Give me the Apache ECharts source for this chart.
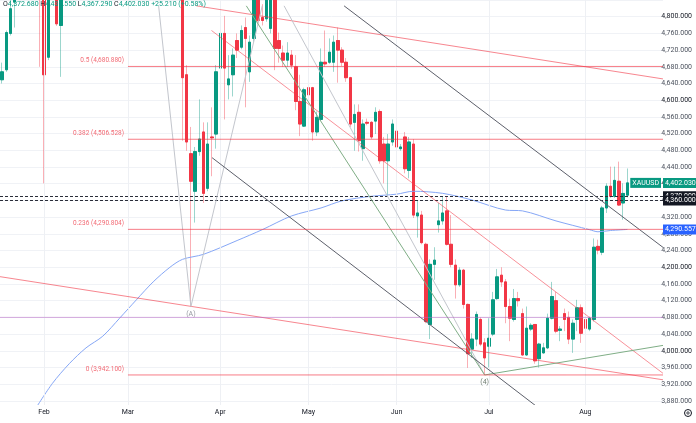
<!DOCTYPE html>
<html><head><meta charset="utf-8">
<script src="https://cdn.jsdelivr.net/npm/echarts@6/dist/echarts.min.js"></script>
<style>html,body{margin:0;padding:0;background:#fff;}#c{width:696px;height:423px;}</style>
</head><body><div id="c"></div>
<script>
const dates = [
 '2026-01-19','2026-01-20','2026-01-21','2026-01-22','2026-01-23','2026-01-26','2026-01-27','2026-01-28','2026-01-29','2026-01-30',
 '2026-02-02','2026-02-03','2026-02-04','2026-02-05','2026-02-06','2026-02-09','2026-02-10','2026-02-11','2026-02-12','2026-02-13',
 '2026-02-16','2026-02-17','2026-02-18','2026-02-19','2026-02-20','2026-02-23','2026-02-24','2026-02-25','2026-02-26','2026-02-27',
 '2026-03-02','2026-03-03','2026-03-04','2026-03-05','2026-03-06','2026-03-09','2026-03-10','2026-03-11','2026-03-12','2026-03-13',
 '2026-03-16','2026-03-17','2026-03-18','2026-03-19','2026-03-20','2026-03-23','2026-03-24','2026-03-25','2026-03-26','2026-03-27',
 '2026-03-30','2026-03-31','2026-04-01','2026-04-02','2026-04-06','2026-04-07','2026-04-08','2026-04-09','2026-04-10','2026-04-13',
 '2026-04-14','2026-04-15','2026-04-16','2026-04-17','2026-04-20','2026-04-21','2026-04-22','2026-04-23','2026-04-24','2026-04-27',
 '2026-04-28','2026-04-29','2026-04-30','2026-05-01','2026-05-04','2026-05-05','2026-05-06','2026-05-07','2026-05-08','2026-05-11',
 '2026-05-12','2026-05-13','2026-05-14','2026-05-15','2026-05-18','2026-05-19','2026-05-20','2026-05-21','2026-05-22','2026-05-25',
 '2026-05-26','2026-05-27','2026-05-28','2026-05-29','2026-06-01','2026-06-02','2026-06-03','2026-06-04','2026-06-05','2026-06-08',
 '2026-06-09','2026-06-10','2026-06-11','2026-06-12','2026-06-15','2026-06-16','2026-06-17','2026-06-18','2026-06-19','2026-06-22',
 '2026-06-23','2026-06-24','2026-06-25','2026-06-26','2026-06-29','2026-06-30','2026-07-01','2026-07-02','2026-07-03','2026-07-06',
 '2026-07-07','2026-07-08','2026-07-09','2026-07-10','2026-07-13','2026-07-14','2026-07-15','2026-07-16','2026-07-17','2026-07-20',
 '2026-07-21','2026-07-22','2026-07-23','2026-07-24','2026-07-27','2026-07-28','2026-07-29','2026-07-30','2026-07-31','2026-08-03',
 '2026-08-04','2026-08-05','2026-08-06','2026-08-07','2026-08-10','2026-08-11','2026-08-12','2026-08-13','2026-08-14','2026-08-17'
];
const opens = [
 4649,4673,4760,4835,4935,4990,5080,5180,5400,5370,
 4890,4703,4950,4965,4779,4960,5050,5020,5080,4930,
 5040,4990,4900,4990,5000,5100,5170,5150,5180,5160,
 5300,5330,5220,5380,5270,5170,5190,5150,5090,5110,
 5020,5040,5000,4960,4661,4472,4382,4477,4524,4389,
 4512,4519,4677,4760,4637,4661,4743,4727,4774,4668,
 4748,4845,4798,4795,4772,4850,4743,4713,4696,4708,
 4680,4597,4538,4630,4630,4524,4554,4691,4691,4691,
 4743,4720,4691,4654,4547,4571,4484,4547,4547,4550,
 4573,4495,4455,4500,4526,4484,4512,4432,4495,4323,
 4325,4255,4063,4207,4302,4311,4335,4255,4205,4158,
 4193,4111,4004,4028,4075,4019,4011,4040,4125,4181,
 4165,4106,4075,4125,4089,3990,4052,4063,3981,3995,
 4007,4078,4120,4049,4089,4080,4028,4075,4103,4075,
 4052,4075,4250,4236,4342,4394,4370,4406,4354,4372.68
];
const highs = [
 4690,4767,4848,4960,5000,5110,5190,5420,5595,5450,
 4950,4980,5090,4990,4980,5060,5070,5100,5090,5050,
 5060,5000,5010,5030,5110,5200,5180,5230,5220,5290,
 5400,5380,5419.66,5400,5330,5210,5230,5180,5130,5120,
 5060,5070,5030,4990,4684,4536,4488,4602,4547,4547,
 4583,4684,4795,4802,4708,4724,4760,4779,4798,4755,
 4850,4870,4830,4860,4880,4870,4762,4731,4739,4720,
 4708,4661,4630,4637,4632,4573,4724,4767,4748,4755,
 4774,4727,4701,4656,4590,4590,4554,4556,4550,4583,
 4578,4512,4519,4554,4547,4495,4524,4512,4507,4361,
 4335,4259,4219,4248,4354,4370,4370,4325,4219,4200,
 4196,4113,4042,4094,4080,4030,4078,4141,4196,4200,
 4172,4125,4148,4141,4101,4106,4066,4063,4019,4019,
 4089,4165,4141,4059,4101,4094,4075,4122,4111,4082,
 4082,4269,4266,4347,4401,4441,4441,4453,4401,4436.55
];
const lows = [
 4640,4668,4755,4774,4905,4975,5050,5170,5100,4680,
 4401,4696,4920,4778,4656,4935,4990,5000,4900,4910,
 4960,4870,4885,4950,4980,5080,5110,5140,5130,5150,
 5260,5200,5200,5250,5160,5080,5130,5060,5010,4990,
 4950,4980,4900,4503,4479,4106,4307,4467,4354,4382,
 4418,4484,4661,4554,4602,4609,4701,4722,4583,4644,
 4740,4785,4779,4788,4760,4672,4690,4680,4680,4675,
 4576,4514,4536,4599,4503,4514,4550,4680,4687,4668,
 4642,4682,4644,4536,4479,4477,4455,4540,4507,4519,
 4448,4401,4370,4491,4467,4479,4425,4413,4318,4271,
 4255,4066,4028,4170,4283,4302,4252,4200,4125,4153,
 4101,3959,3983,4011,4011,3942.1,3960,4035,4122,4153,
 4066,4023,4070,4106,3988,3988,4047,3969,3960,3993,
 4004,4075,4042,4023,4047,4016,3995,4047,4019,4019,
 4047,4070,4231,4229,4330,4366,4366,4347,4314,4367.29
];
const closes = [
 4668,4762,4819,4935,4985,5080,5180,5400,5370,4890,
 4661,4950,4965,4783,4960,5050,5020,5080,4930,5040,
 4990,4900,4990,5000,5100,5170,5150,5180,5160,5270,
 5330,5220,5380,5270,5170,5190,5150,5090,5110,5020,
 5040,5000,4960,4654,4500,4406,4477,4507,4377,4495,
 4510,4668,4760,4677,4651,4708,4720,4767,4748,4739,
 4845,4791,4791,4845,4860,4724,4724,4696,4713,4684,
 4597,4543,4625,4613,4524,4559,4691,4687,4715,4739,
 4720,4691,4654,4543,4566,4503,4543,4545,4512,4571,
 4455,4455,4495,4543,4488,4488,4436,4500,4325,4330,
 4259,4070,4207,4217,4311,4330,4255,4207,4158,4193,
 4111,3993,4028,4087,4016,3983,4030,4122,4177,4165,
 4106,4078,4125,4120,3990,4054,4061,3976,4016,4007,
 4078,4130,4047,4052,4075,4028,4066,4103,4042,4054,
 4078,4248,4241,4342,4394,4370,4408,4349,4376.82,4402.03
];
// moving average (bar index, value)
const maIdx = [8,12,16,20,24,28,32,36,40,43,48,56,62,69,76,81,88,94,98,105,112,120,124,132,140,142,145,149];
const maVal = [3862,3922,3969,4007,4035,4078,4122,4165,4200,4219,4231,4264,4290,4323,4342,4359,4370,4375,4382,4377,4361,4337,4335,4311,4290,4285,4288,4290.557];
// fibonacci retracement
const fibRatios = ['0.5','0.382','0.236','0'];
const fibValues = [4680.88,4506.528,4290.804,3942.1];
const fibStartIdx = 30;
// drawn trend lines: [bar index, price]
const redUpper = [[46.3,4826],[157.5,4651]];
const redLower = [[-0.5,4177.5],[157.5,3930.5]];
const redMid = [[49.9,4767],[157.5,3946]];
const grayV = [[37.3,4826],[45,4106],[62.0,4826]];
const grayLong = [[67.2,4826],[115,3942.1]];
const greenPath = [[58.2,4826],[115,3942.1],[157.5,4012.9]];
const blackLower = [[50.04,4462.4],[127.5,3865.8]];
const blackUpper = [[81.5,4826],[157.5,4247.6]];
const supportLevel = 4080;
const dashedLevels = [4370,4360];
const waveLabels = [['(A)',45,4106],['(4)',115,3942.1]];
const monthStarts = [10,30,52,73,94,116,139];
const monthNames = ['Feb','Mar','Apr','May','Jun','Jul','Aug'];
const padCount = 8;
const symbolName = 'XAUUSD';

const N = dates.length + padCount;
const cats = dates.concat(Array.from({length: padCount}, (_, k) => 'pad' + k));
const up = '#089981', down = '#f23645';
const fmt = v => v.toLocaleString('en-US', {minimumFractionDigits: 3, maximumFractionDigits: 3});
const last = dates.length - 1;
const lastClose = closes[last], prevClose = closes[last - 1];
const chg = lastClose - prevClose, pct = chg / prevClose * 100;
const maLast = maVal[maVal.length - 1];
const FONT = 'Roboto';
const HIDDEN = {color: 'rgba(255,255,255,0)', width: 0.01, type: 'solid'};

const wickData = dates.map((d, i) => [opens[i], closes[i], lows[i], highs[i]]);
const bodyData = dates.map((d, i) => [opens[i], closes[i], Math.min(opens[i], closes[i]), Math.max(opens[i], closes[i])]);

function seg(pts, color, extra) {
  return Object.assign({type: 'line', xAxisIndex: 1, yAxisIndex: 0, data: pts, symbol: 'none', silent: true,
    lineStyle: {color: color, width: 1}, z: 5}, extra || {});
}
const tagLabel = (txt, bg, pos, dist) => ({show: true, position: pos, distance: dist, formatter: txt, backgroundColor: bg,
  color: '#fff', fontSize: 7, fontFamily: FONT, padding: [2, 2, 1, 2], opacity: 1});

const series = [];
// month grid lines
series.push({type: 'line', xAxisIndex: 1, data: [], z: 1, silent: true,
  markLine: {symbol: ['none', 'none'], silent: true, label: {show: false}, lineStyle: {color: '#eef0f4', width: 1, type: 'solid'},
    data: monthStarts.map(m => ({xAxis: m}))}});
// wicks (pale)
series.push({type: 'candlestick', data: wickData, barWidth: 3, z: 2,
  itemStyle: {color: 'rgba(8,153,129,0.4)', color0: 'rgba(242,54,69,0.4)', borderColor: 'rgba(8,153,129,0.4)', borderColor0: 'rgba(242,54,69,0.4)', borderWidth: 1}});
// bodies
series.push({type: 'candlestick', data: bodyData, barWidth: 3, z: 3,
  itemStyle: {color: up, color0: down, borderColor: up, borderColor0: down, borderWidth: 1},
  markLine: {symbol: ['none', 'none'], silent: true,
    data: [
      {yAxis: maLast, lineStyle: HIDDEN, label: tagLabel(fmt(maLast), '#2962ff', 'end', 0)},
      {yAxis: lastClose, lineStyle: HIDDEN, label: tagLabel(fmt(lastClose), up, 'end', 0)},
      {yAxis: lastClose, lineStyle: HIDDEN, label: tagLabel(symbolName, up, 'insideEnd', 2)},
      {yAxis: dashedLevels[0], lineStyle: {color: '#2a2e39', type: [3, 2], width: 1}, label: tagLabel(fmt(dashedLevels[0]), '#131722', 'end', 0)},
      {yAxis: dashedLevels[1], lineStyle: {color: '#2a2e39', type: [3, 2], width: 1}, label: tagLabel(fmt(dashedLevels[1]), '#131722', 'end', 0)}
    ]}});
// moving average
series.push(seg(maIdx.map((x, k) => [x, maVal[k]]), '#86a7f6', {smooth: 0.3, z: 4}));
// trend lines
series.push(seg(redUpper, 'rgba(242,54,69,0.6)'));
series.push(seg(redLower, 'rgba(242,54,69,0.6)'));
series.push(seg(redMid, 'rgba(242,54,69,0.55)'));
series.push(seg(grayV, '#c3c6cd', {markPoint: {symbol: 'circle', symbolSize: 0, silent: true,
  label: {show: true, position: 'bottom', distance: 4, color: '#9598a1', fontSize: 7, fontFamily: FONT, formatter: p => p.name},
  data: [{name: waveLabels[0][0], coord: [waveLabels[0][1], waveLabels[0][2]]}]}}));
series.push(seg(grayLong, '#c3c6cd'));
series.push(seg(greenPath, '#7fae86', {markPoint: {symbol: 'circle', symbolSize: 0, silent: true,
  label: {show: true, position: 'bottom', distance: 4, color: '#6f7d72', fontSize: 7, fontFamily: FONT, formatter: p => p.name},
  data: [{name: waveLabels[1][0], coord: [waveLabels[1][1], waveLabels[1][2]]}]}}));
series.push(seg(blackLower, '#5d606b'));
series.push(seg(blackUpper, '#5d606b'));
series.push(seg([[-0.5, supportLevel], [N - 0.5, supportLevel]], 'rgba(186,104,200,0.55)'));
fibValues.forEach((v, k) => {
  series.push(seg([[fibStartIdx, v], [N - 0.5, v]], 'rgba(242,54,69,0.65)', {markPoint: {symbol: 'circle', symbolSize: 0, silent: true,
    label: {show: true, position: 'left', distance: 4, offset: [0, -6], color: '#f26b75', fontSize: 6.5, fontFamily: FONT,
      formatter: fibRatios[k] + ' (' + fmt(v) + ')'},
    data: [{coord: [fibStartIdx, v]}]}}));
});

const header = '{k|O}{v|' + fmt(opens[last]) + '} {k|H}{v|' + fmt(highs[last]) + '} {k|L}{v|' + fmt(lows[last]) + '} {k|C}{v|' +
  fmt(lastClose) + '} {v|' + (chg >= 0 ? '+' : '') + fmt(chg) + ' (' + (pct >= 0 ? '+' : '') + pct.toFixed(2) + '%)}';

const chart = echarts.init(document.getElementById('c'));
chart.setOption({
  animation: false,
  backgroundColor: '#fff',
  grid: {left: -2, right: 33, top: -5.94, bottom: 5.4, containLabel: false},
  xAxis: [
    {type: 'category', data: cats, boundaryGap: true, offset: -12.6, z: 60,
     axisLine: {show: false}, axisTick: {show: false}, splitLine: {show: false},
     axisLabel: {interval: (i) => monthStarts.indexOf(i) >= 0, formatter: (v, i) => {const k = monthStarts.indexOf(i); return k >= 0 ? monthNames[k] : '';},
       fontSize: 7, color: '#131722', margin: 4, fontFamily: FONT}},
    {type: 'value', min: -0.5, max: N - 0.5, show: false}
  ],
  yAxis: {type: 'value', position: 'right', min: 3840, max: 4840, interval: 40,
    axisLine: {show: false}, axisTick: {show: false},
    splitLine: {lineStyle: {color: '#f0f2f6', width: 1}},
    axisLabel: {showMinLabel: false, showMaxLabel: false, margin: 29, align: 'right', fontFamily: FONT,
      formatter: v => (v % 200 === 0 ? '{b|' : '{n|') + fmt(v) + '}',
      rich: {b: {color: '#131722', fontSize: 7, fontFamily: FONT}, n: {color: '#4c525e', fontSize: 7, fontFamily: FONT}}}},
  series: series,
  graphic: [
    {type: 'rect', shape: {x: 0, y: 405, width: 663, height: 18}, style: {fill: '#fff'}, z: 50, silent: true},
    {type: 'text', x: 3, y: 1, z: 100, silent: true, style: {text: header, fontSize: 7, fontFamily: FONT, verticalAlign: 'top',
      rich: {k: {fill: '#131722', color: '#131722', fontSize: 7, fontFamily: FONT}, v: {fill: up, color: up, fontSize: 7, fontFamily: FONT}}}},
    {type: 'circle', shape: {cx: 688, cy: 413, r: 3.5}, style: {fill: 'none', stroke: '#131722', lineWidth: 1}, z: 100, silent: true},
    {type: 'circle', shape: {cx: 688, cy: 413, r: 1.2}, style: {fill: 'none', stroke: '#131722', lineWidth: 0.8}, z: 100, silent: true}
  ]
});
</script></body></html>
